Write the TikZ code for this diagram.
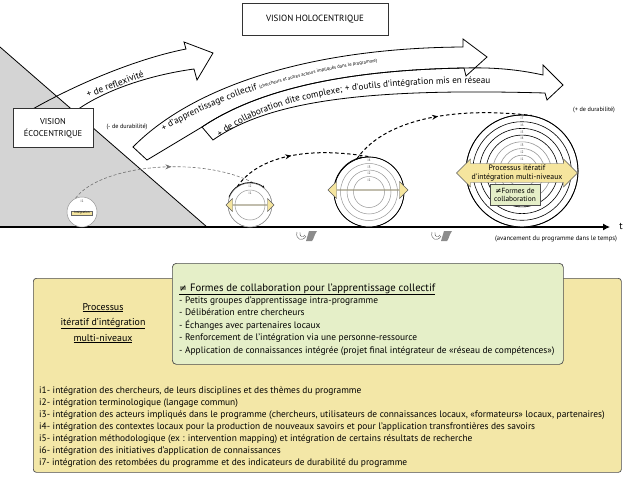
\documentclass[tikz,border=0pt]{standalone}
\usepackage{fontspec}
\setmainfont{PT Sans}
\newfontfamily\symfont{DejaVu Sans}
\usetikzlibrary{arrows.meta,shapes.arrows,decorations.text,decorations.markings,calc}

\definecolor{triGray}{RGB}{212,212,212}
\definecolor{boxYellow}{RGB}{243,231,167}
\definecolor{arrYellow}{RGB}{245,229,158}
\definecolor{boxGreen}{RGB}{229,239,200}
\definecolor{ringGray}{RGB}{150,150,150}

\newcommand\bigtxt{\fontsize{9.2}{10}\selectfont}
\newcommand\smalltxt{\fontsize{4.7}{6}\selectfont}

\tikzset{
  visionbox/.style={draw=black!80, fill=white, line width=0.7pt, align=center, inner sep=0pt},
  bigarrow/.style={draw=black, line width=0.8pt, line join=miter},
  ringnode/.style={circle, draw=ringGray, fill=white, inner sep=0pt, line width=0.5pt},
  ilabel/.style={font=\fontsize{3.6}{4}\selectfont, inner sep=0pt, text=black!75},
  yarrow/.style={double arrow, double arrow tip angle=90, fill=arrYellow, draw=black!65, line width=0.4pt, inner sep=0pt},
  midarrow/.style={postaction={decorate, decoration={markings, mark=at position #1 with {\arrow{Stealth[length=6pt,width=5pt]}}}}},
  trajgray/.style={draw=black!55, line width=0.6pt, dash pattern=on 3pt off 2pt},
  trajblack/.style={draw=black, line width=1pt, dash pattern=on 3.5pt off 2.5pt},
  tinynote/.style={font=\fontsize{6.2}{7}\selectfont, inner sep=0pt},
  listline/.style={font=\fontsize{9.4}{10}\selectfont, inner sep=0pt, anchor=base west},
}

\begin{document}
\begin{tikzpicture}[x=1pt,y=1pt]
\useasboundingbox (0,0) rectangle (631,-480);

%Gray triangle
\fill[triGray] (0,-47) -- (207,-227) -- (0,-227) -- cycle;
\draw[line width=0.8pt] (0,-47) -- (207,-227);

%Time axis
\coordinate (t0) at (0,-227);
\coordinate (t1) at (610,-227);
\draw[line width=1.1pt, -{Latex[length=7pt,width=7pt]}] (t0) -- (t1);
\node[font=\fontsize{10}{10}\selectfont, inner sep=0] (t) at (621,-226) {t};
\node[tinynote, font=\fontsize{6.6}{7}\selectfont] (avanc) at (556,-239) {(avancement du programme dans le temps)};

%Big arrow: reflexivite
\draw[bigarrow] (31,-110) .. controls (80,-82) and (140,-58) .. (186,-49) -- (184,-42) -- (213,-53) -- (197,-80) -- (194,-69) .. controls (150,-75) and (105,-90) .. (77,-110);
%Big arrow: collaboration
\draw[bigarrow] (202,-127) .. controls (260,-88) and (350,-70) .. (464,-68) .. controls (500,-67) and (525,-71) .. (543,-75) -- (543,-65) -- (563,-85) -- (547,-100) -- (545,-93) .. controls (370,-88) and (270,-100) .. (213,-140) -- cycle;
%Big arrow: apprentissage
\draw[bigarrow] (133,-147) .. controls (192,-87) and (308,-48) .. (463,-47) -- (463,-39) -- (487,-57) -- (466,-76) -- (464,-68) .. controls (350,-70) and (260,-88) .. (202,-127) -- (147,-160) -- cycle;

% Text Node
\node[font=\fontsize{9.5}{10}\selectfont, rotate=21, inner sep=0] (reflex) at (115,-84) {+ de reflexivité};
\path[decorate, decoration={text along path, text align={left indent=27pt},
  text={|\bigtxt|+ d’apprentissage collectif |\smalltxt|(chercheurs et autres acteurs impliqués dans le programme)}}]
  (141,-146) .. controls (206,-99) and (322,-58) .. (475,-54);
\path[decorate, decoration={text along path, text align={left indent=9pt},
  text={|\bigtxt|+ de collaboration dite complexe; + d’outils d’intégration mis en réseau}}]
  (213,-143) .. controls (262,-99) and (360,-77) .. (560,-85);

%Vision boxes
\node[visionbox, minimum width=80, minimum height=39, font=\fontsize{8.5}{12}\selectfont] (eco) at (53,-128) {VISION\\ÉCOCENTRIQUE};
\node[visionbox, minimum width=146, minimum height=32, font=\fontsize{9}{10}\selectfont] (holo) at (315,-19) {VISION HOLOCENTRIQUE};
\node[tinynote] (lessdur) at (127,-127) {(- de durabilité)};
\node[tinynote] (moredur) at (594,-110) {(+ de durabilité)};

%Circles
\node[ringnode, minimum size=30] (c1) at (82,-212) {};
\node[ringnode, minimum size=44] (c2) at (250,-205) {};
\node[ringnode, minimum size=70, draw=black, line width=0.7pt] (c3) at (369,-192) {};
\node[ringnode, minimum size=112, draw=black, line width=0.8pt] (c4) at (522,-171) {};

%Trajectories
\draw[trajgray, midarrow=0.55] (c1.115) .. controls (100,-165) and (200,-155) .. (c2.80);
\draw[trajblack, midarrow=0.45] (c2.125) .. controls (255,-160) and (300,-145) .. (c3.north);
\draw[trajblack, midarrow=0.5] (c3.110) .. controls (380,-125) and (440,-105) .. (c4.80);

%Rings
\node[ilabel] at ($(c1.center)+(0,11)$) {i1};
\foreach \r/\i/\col in {22/2/ringGray,15/1/ringGray}{
  \draw[draw=\col, line width=0.5pt] (c2.center) circle[radius=\r];
  \node[ilabel] at ($(c2.center)+(0,\r-3.5)$) {i\i};
}
\foreach \r/\i/\col in {35/4/black,28.5/3/ringGray,22/2/ringGray,15.5/1/ringGray}{
  \draw[draw=\col, line width=0.5pt] (c3.center) circle[radius=\r];
  \node[ilabel] at ($(c3.center)+(0,\r-3.5)$) {i\i};
}
\foreach \r/\i/\col in {56/7/black,49.3/6/black,42.6/5/black,35.9/4/black,29.2/3/ringGray,22.5/2/ringGray,15.8/1/ringGray}{
  \draw[draw=\col, line width=0.6pt] (c4.center) circle[radius=\r];
  \node[ilabel] at ($(c4.center)+(0,\r-3.6)$) {i\i};
}
\draw[line width=0.6pt, -{Stealth[length=2.5pt,width=2pt]}] ([shift={(160:22.5)}]c2.center) arc[start angle=160, end angle=50, radius=22.5];
\draw[line width=0.6pt, -{Stealth[length=2.5pt,width=2pt]}] ([shift={(170:35.5)}]c3.center) arc[start angle=170, end angle=100, radius=35.5];

%Yellow arrows
\node[draw=black!60, fill=arrYellow, font=\fontsize{3.2}{4}\selectfont, inner xsep=1.5pt, inner ysep=0.8pt, minimum width=21] (integ) at (82,-213) {Intégration};
\node[yarrow, minimum height=48, minimum width=13, double arrow head extend=2.5] (a2) at (250,-205) {};
\node[yarrow, minimum height=80, minimum width=17, double arrow head extend=3.5] (a3) at (368,-190) {};
\node[yarrow, minimum height=121, minimum width=28, double arrow head extend=4, align=center, font=\fontsize{7.8}{9}\selectfont] (a4) at (517,-173) {Processus itératif\\d’intégration multi-niveaux};
\node[draw=black!70, fill=boxGreen, line width=0.5pt, align=center, font=\fontsize{7.4}{8.6}\selectfont, minimum width=50, minimum height=21, inner sep=1pt] (forms) at (515,-195) {{\symfont ≠}Formes de\\collaboration};

%Small icons
\foreach \ix in {305,440}{
  \draw[black!70, line width=0.4pt] (\ix-8,-232) .. controls (\ix-10,-240) and (\ix-2,-242) .. (\ix+1,-236);
  \draw[black!70, line width=0.4pt] (\ix-5,-232) .. controls (\ix-6,-237) and (\ix-2,-238) .. (\ix,-235);
  \fill[black!45] (\ix+1,-241) -- (\ix+4,-231) -- (\ix+12,-231) .. controls (\ix+9,-235) and (\ix+9,-239) .. (\ix+7,-241) -- cycle;
}

%Bottom boxes
\node[draw=black!70, fill=boxYellow, rounded corners=3pt, line width=0.7pt, minimum width=588, minimum height=194, anchor=north west] (procbox) at (33,-278) {};
\node[draw=black!70, fill=boxGreen, rounded corners=4pt, line width=0.7pt, minimum width=391, minimum height=101, anchor=north west] (formbox) at (172,-263) {};

% Text Node
\node[font=\fontsize{9.9}{10}\selectfont, inner sep=0, anchor=base] (proc1) at (103,-310) {\underline{Processus}};
\node[font=\fontsize{9.9}{10}\selectfont, inner sep=0, anchor=base] (proc2) at (103,-325) {\underline{itératif d’intégration}};
\node[font=\fontsize{9.9}{10}\selectfont, inner sep=0, anchor=base] (proc3) at (103,-341) {\underline{multi-niveaux}};

\node[listline, font=\fontsize{10.7}{11}\selectfont] (formtitle) at (179,-291) {\underline{{\symfont\fontsize{9.5}{10}\selectfont ≠} Formes de collaboration pour l’apprentissage collectif}};
\foreach \txt [count=\n] in {
  {- Petits groupes d’apprentissage intra-programme},
  {- Délibération entre chercheurs},
  {- Échanges avec partenaires locaux},
  {- Renforcement de l’intégration via une personne-ressource},
  {- Application de connaissances intégrée (projet final intégrateur de «réseau de compétences»)}}
  \node[listline] (form\n) at (179,{-303-12.5*(\n-1)}) {\txt};

\foreach \txt [count=\n] in {
  {i1- intégration des chercheurs, de leurs disciplines et des thèmes du programme},
  {i2- intégration terminologique (langage commun)},
  {i3- intégration des acteurs impliqués dans le programme (chercheurs, utilisateurs de connaissances locaux, «formateurs» locaux, partenaires)},
  {i4- intégration des contextes locaux pour la production de nouveaux savoirs et pour l’application transfrontières des savoirs},
  {i5- intégration méthodologique (ex : intervention mapping) et intégration de certains résultats de recherche},
  {i6- intégration des initiatives d’application de connaissances},
  {i7- intégration des retombées du programme et des indicateurs de durabilité du programme}}
  \node[listline] (ilist\n) at (39,{-393-12*(\n-1)}) {\txt};
\end{tikzpicture}
\end{document}
